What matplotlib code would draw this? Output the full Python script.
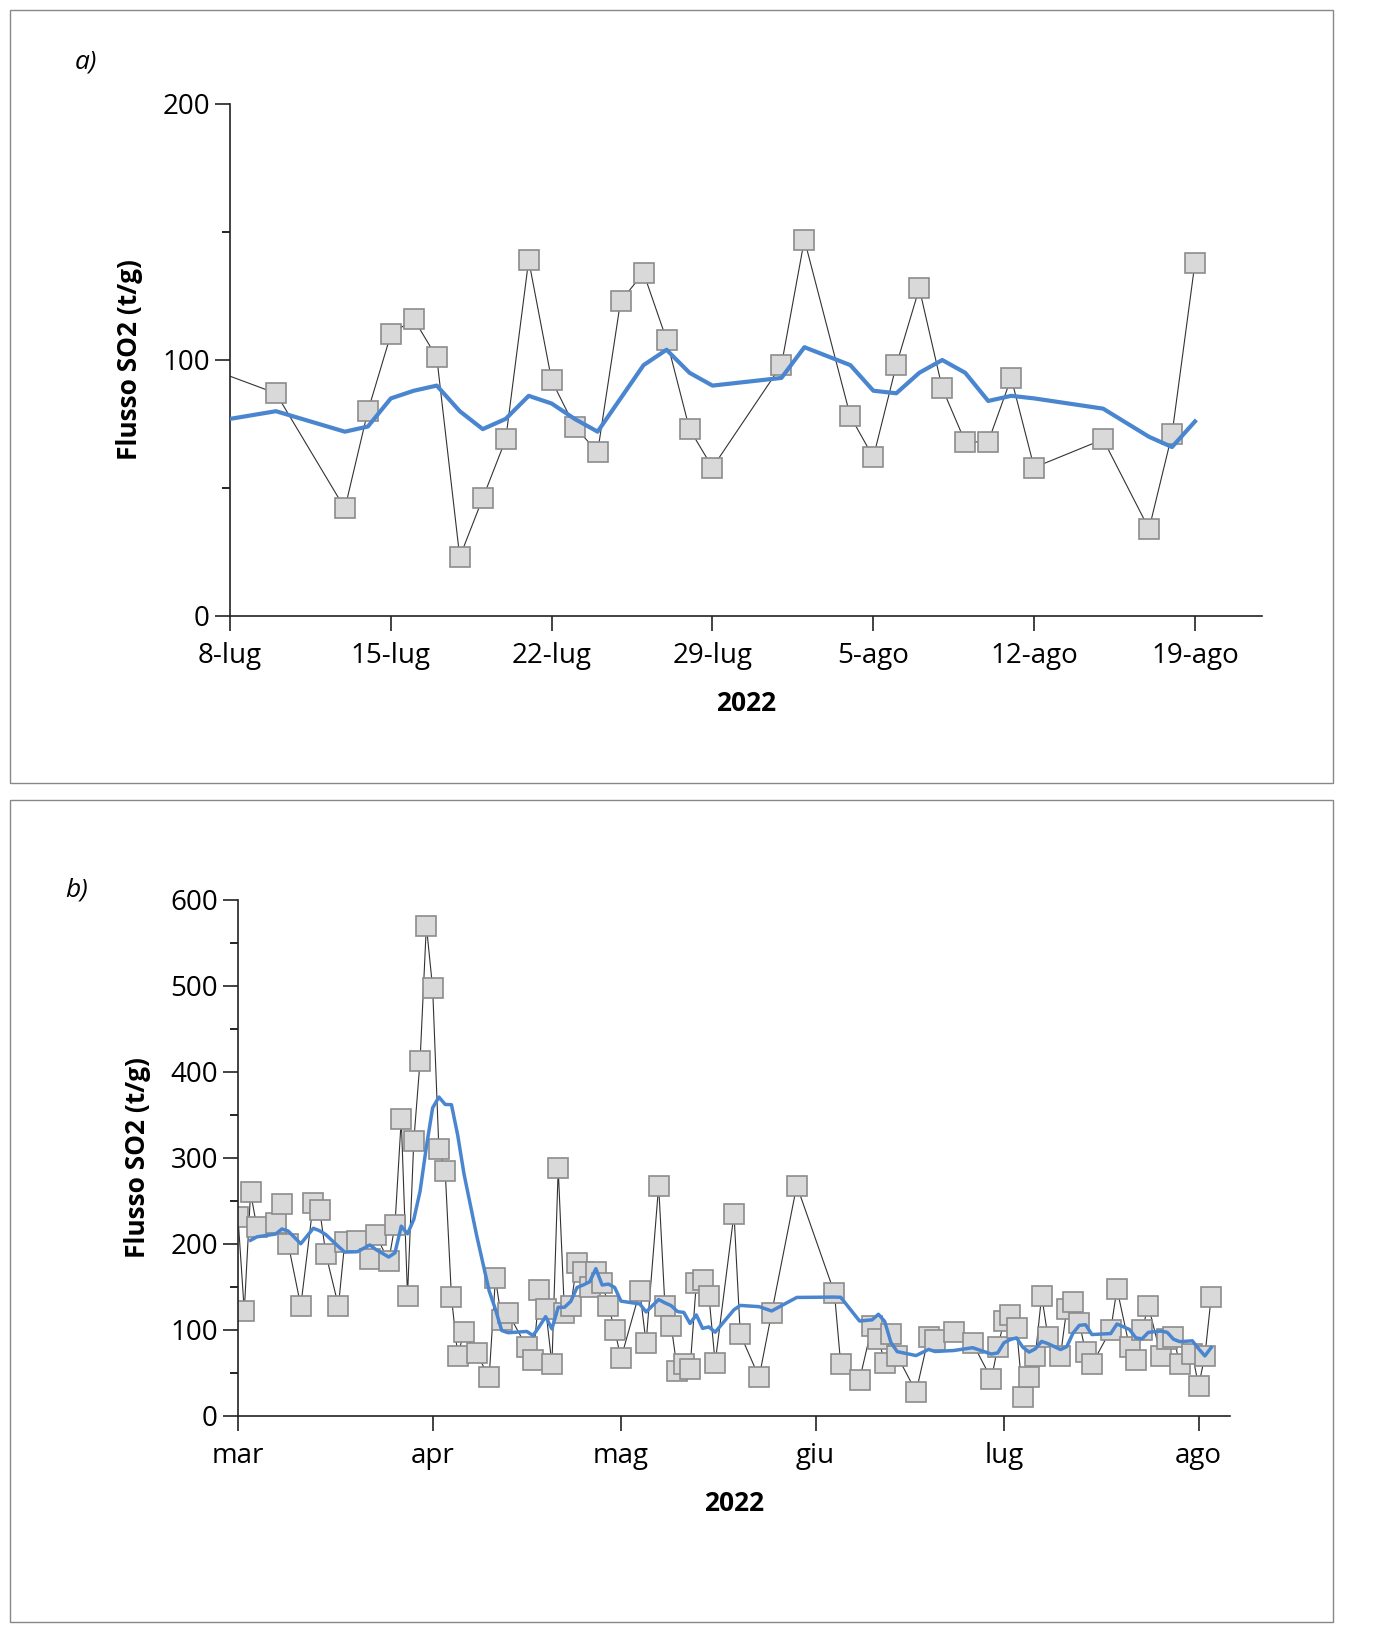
import matplotlib
matplotlib.use("Agg")
import matplotlib.pyplot as plt
import numpy as np
import pandas as pd
from matplotlib.patches import Rectangle
from matplotlib.ticker import MultipleLocator

plt.rcParams['font.family'] = ['Open Sans', 'DejaVu Sans']

# ---- Panel a data (July-August 2022) ----
a_dates = ["2022-07-07","2022-07-10","2022-07-13","2022-07-14","2022-07-15","2022-07-16","2022-07-17",
           "2022-07-18","2022-07-19","2022-07-20","2022-07-21","2022-07-22","2022-07-23","2022-07-24",
           "2022-07-25","2022-07-26","2022-07-27","2022-07-28","2022-07-29","2022-08-01","2022-08-02",
           "2022-08-04","2022-08-05","2022-08-06","2022-08-07","2022-08-08","2022-08-09","2022-08-10",
           "2022-08-11","2022-08-12","2022-08-15","2022-08-17","2022-08-18","2022-08-19"]
a_values = [97, 87, 42, 80, 110, 116, 101, 23, 46, 69, 139, 92, 74, 64, 123, 134, 108, 73, 58,
            98, 147, 78, 62, 98, 128, 89, 68, 68, 93, 58, 69, 34, 71, 138]
a_avg_dates = a_dates[1:]
a_avg_values = [80, 72, 74, 85, 88, 90, 80, 73, 77, 86, 83, 77, 72, 85, 98, 104, 95, 90,
                93, 105, 98, 88, 87, 95, 100, 95, 84, 86, 85, 81, 70, 66, 76]
a_avg_start = 77  # value at 8-lug
a_ticks = ["2022-07-08","2022-07-15","2022-07-22","2022-07-29","2022-08-05","2022-08-12","2022-08-19"]
a_ticklabels = ["8-lug","15-lug","22-lug","29-lug","5-ago","12-ago","19-ago"]

# ---- Panel b data (March-August 2022), day offsets from 1 March ----
b_days = [0,1,2,3,6,7,8,10,12,13,14,16,17,19,21,22,24,25,26,27,28,29,30,31,32,33,34,35,36,38,
          40,41,42,43,46,47,48,49,50,51,52,53,54,55,56,57,58,59,60,61,64,65,67,68,69,70,71,72,
          73,74,75,76,79,80,83,85,89,95,96,99,101,102,103,104,105,108,110,111,114,117,120,121,
          122,123,124,125,126,127,128,129,131,132,133,134,135,136,139,140,142,143,144,145,147,
          148,149,150,152,153,154,155]
b_values = [231,122,260,220,225,247,200,128,248,240,188,128,202,203,183,210,180,222,345,140,
            320,413,570,498,310,285,138,70,98,73,45,160,112,120,80,65,147,125,60,288,120,128,
            178,168,150,167,155,128,100,67,145,85,268,128,105,52,60,55,155,158,140,62,235,95,
            45,120,268,143,60,42,105,90,62,95,70,28,92,88,98,85,43,80,110,118,102,22,45,70,140,
            92,70,125,133,108,75,60,100,148,80,65,100,128,70,90,92,60,72,35,70,138]
b_ticks = ["2022-03-01","2022-04-01","2022-05-01","2022-06-01","2022-07-01","2022-08-01"]
b_ticklabels = ["mar","apr","mag","giu","lug","ago"]

fig = plt.figure(figsize=(13.83, 16.25), dpi=100)
W, H = 1383, 1625
for (x0, y0, x1, y1) in [(10, 10, 1333, 783), (10, 800, 1333, 1622)]:
    fig.patches.append(Rectangle((x0 / W, 1 - y1 / H), (x1 - x0) / W, (y1 - y0) / H,
                                 transform=fig.transFigure, fill=False, ec="#888888", lw=1))

mk = dict(marker="s", markersize=15, markerfacecolor="#d9d9d9", markeredgecolor="#8c8c8c",
          markeredgewidth=1.2, color="#333333", lw=0.8)
blue = "#4a86d0"

def style(ax):
    for s in ["top", "right"]:
        ax.spines[s].set_visible(False)
    for s in ["left", "bottom"]:
        ax.spines[s].set_color("#222222")
        ax.spines[s].set_linewidth(1.2)
    ax.tick_params(axis="both", labelsize=20, length=11, width=1.2, direction="out", color="#222222")
    ax.tick_params(axis="x", pad=8)
    ax.tick_params(axis="y", which="minor", length=6, width=1.2)
    ax.set_ylabel("Flusso SO2 (t/g)", fontsize=19, fontweight="bold", labelpad=14)
    ax.set_xlabel("2022", fontsize=19, fontweight="bold", labelpad=14)

# Panel a
ax1 = fig.add_axes([230 / W, 1 - 616 / H, (1262 - 230) / W, (616 - 104) / H])
ad = pd.to_datetime(a_dates)
ax1.plot(ad, a_values, zorder=2, **mk)
avd = pd.to_datetime(["2022-07-08"] + a_avg_dates)
ax1.plot(avd, [a_avg_start] + a_avg_values, color=blue, lw=3, zorder=3)
ax1.set_xlim(pd.Timestamp("2022-07-08"), pd.Timestamp("2022-08-21 22:00"))
ax1.set_ylim(0, 200)
ax1.yaxis.set_major_locator(MultipleLocator(100))
ax1.yaxis.set_minor_locator(MultipleLocator(50))
ax1.set_xticks(pd.to_datetime(a_ticks))
ax1.set_xticklabels(a_ticklabels)
style(ax1)
fig.text(75 / W, 1 - 62 / H, "a)", fontsize=19, style="italic", va="center")

# Panel b
ax2 = fig.add_axes([238 / W, 1 - 1416 / H, (1230 - 238) / W, (1416 - 900) / H])
bd = pd.Timestamp("2022-03-01") + pd.to_timedelta(b_days, unit="D")
ax2.plot(bd, b_values, zorder=2, **mk)
ravg = pd.Series(b_values).rolling(7, min_periods=3).mean()
ax2.plot(bd, ravg, color=blue, lw=2.5, zorder=3)
ax2.set_xlim(pd.Timestamp("2022-03-01"), pd.Timestamp("2022-08-06"))
ax2.set_ylim(0, 600)
ax2.yaxis.set_major_locator(MultipleLocator(100))
ax2.yaxis.set_minor_locator(MultipleLocator(50))
ax2.set_xticks(pd.to_datetime(b_ticks))
ax2.set_xticklabels(b_ticklabels)
style(ax2)
fig.text(65 / W, 1 - 890 / H, "b)", fontsize=19, style="italic", va="center")

fig.savefig("out.png", dpi=100)
